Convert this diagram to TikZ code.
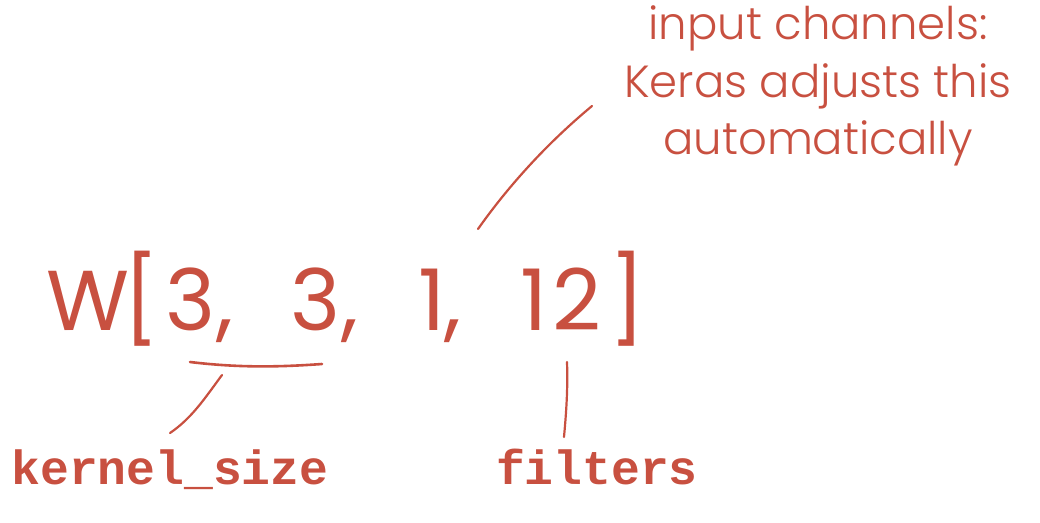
\documentclass[tikz,border=0pt]{standalone}
\usepackage{fontspec}
\newfontfamily\hand{Poppins Light}
\newfontfamily\handreg{Poppins}
\newfontfamily\codefont{Liberation Mono}
\definecolor{ink}{RGB}{200,80,64}
\begin{document}
\begin{tikzpicture}[x=1pt,y=-1pt,
  every node/.style={inner sep=0pt, outer sep=0pt, text=ink},
  glyph/.style={anchor=base, font=\handreg\fontsize{85}{85}\selectfont},
  note/.style={align=center, font=\hand\fontsize{45}{57.5}\selectfont},
  code/.style={anchor=base, font=\codefont\bfseries\fontsize{48}{48}\selectfont},
  stroke/.style={draw=ink, line width=2.2pt, line cap=round}]
\useasboundingbox (0,0) rectangle (1040,522);
% formula
\node[glyph] (W)  at (88,330)  {W};
\node[glyph] (lb) at (141,330) {[};
\node[glyph] (d1) at (191,330) {3};
\node[glyph] (c1) at (225,330) {,};
\node[glyph] (d2) at (316,330) {3};
\node[glyph] (c2) at (350,330) {,};
\node[glyph] (d3) at (432,330) {1};
\node[glyph] (c3) at (453,330) {,};
\node[glyph] (d4) at (534,330) {1};
\node[glyph] (d5) at (577,330) {2};
\node[glyph] (rb) at (627,330) {]};
% annotation
\node[note] (note) at (818,86) {input channels:\\Keras adjusts this\\automatically};
% labels
\node[code] (kernel)  at (170,484) {kernel\_size};
\node[code] (filters) at (597,484) {filters};
% connectors
\coordinate (ulA) at (190,362);
\coordinate (ulB) at (322,364);
\draw[stroke, line width=2.6pt] (ulA) .. controls (240,368) and (280,367) .. (ulB);
\coordinate (kA) at (222,375);
\coordinate (kB) at (170,433);
\draw[stroke] (kA) .. controls (205,398) and (192,418) .. (kB);
\coordinate (fA) at (567,362);
\coordinate (fB) at (564,437);
\draw[stroke] (fA) .. controls (568,390) and (566,415) .. (fB);
\coordinate (nA) at (592,106);
\coordinate (nB) at (478,229);
\draw[stroke] (nA) .. controls (545,145) and (507,188) .. (nB);
\end{tikzpicture}
\end{document}
